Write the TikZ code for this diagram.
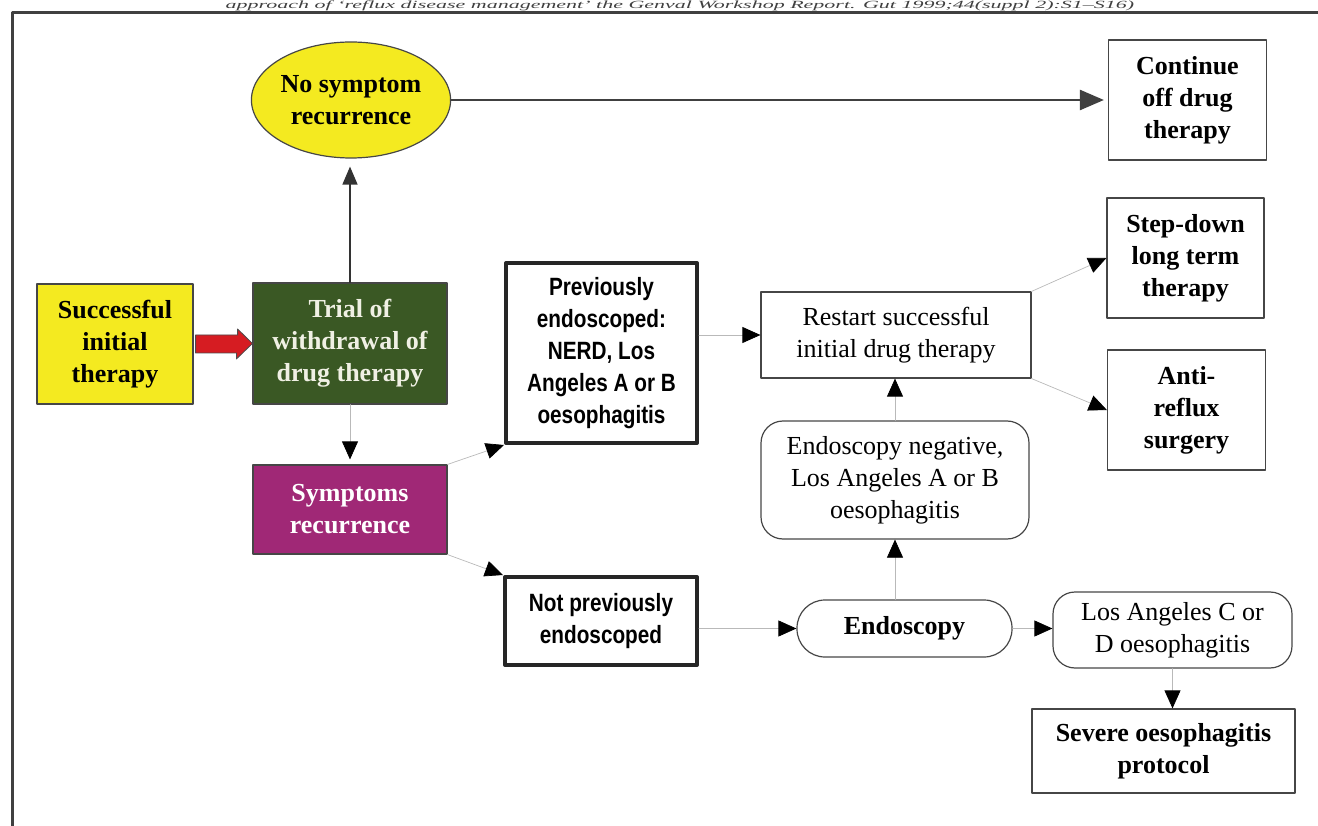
\documentclass[tikz,border=0pt]{standalone}
\usepackage{fontspec}
\setmainfont{Liberation Serif}
\newfontfamily\narrowsans[FakeStretch=0.83]{Liberation Sans}
\usetikzlibrary{arrows.meta,shapes.geometric}
\definecolor{boxyellow}{RGB}{244,234,32}
\definecolor{trialgreen}{RGB}{58,88,36}
\definecolor{sympmagenta}{RGB}{160,40,118}
\definecolor{arrowred}{RGB}{214,28,34}
\definecolor{edgegray}{RGB}{70,70,70}
\definecolor{linkgray}{RGB}{185,185,185}
\definecolor{paleink}{RGB}{240,240,228}

\begin{document}
\begin{tikzpicture}[line cap=round,line join=round,x=1pt,y=-1pt,
  box/.style={draw=edgegray,line width=1.2pt,inner sep=0pt,align=center,font=\fontsize{26}{32}\selectfont},
  boldbox/.style={box,font=\fontsize{26}{32}\selectfont\bfseries},
  thickbox/.style={box,draw=black!85,line width=4pt,font=\fontsize{25}{32}\selectfont\narrowsans\bfseries},
  roundbox/.style={box,rounded corners=22pt},
  link/.style={draw=linkgray,line width=0.7pt,-{Triangle[length=18pt,width=16pt,color=black]}}]
	\useasboundingbox (0,0) rectangle (1318,826);
	\clip (0,0) rectangle (1318,826);
	% caption above the frame
	\node[font=\fontsize{11}{13}\selectfont\itshape,text=black!75,anchor=base,inner sep=0pt,transform shape,xscale=2] (cap) at (680,8.5) {approach of `reflux disease management' the Genval Workshop Report. Gut 1999;44(suppl 2):S1--S16)};
	\draw[line width=3pt,draw=black!75] (12,826) -- (12,12.5) -- (1318,12.5);
	% boxes
	\node[boldbox,fill=boxyellow,minimum width=156,minimum height=120] (succ) at (115,344) {Successful\\initial\\therapy};
	\node[boldbox,fill=trialgreen,text=paleink,minimum width=194,minimum height=121] (trial) at (350,343.5) {Trial of\\withdrawal of\\drug therapy};
	\node[boldbox,ellipse,fill=boxyellow,minimum width=196,minimum height=116] (nosym) at (351,100) {No symptom\\recurrence};
	\node[boldbox,minimum width=158,minimum height=120] (cont) at (1187.5,100) {Continue\\off drug\\therapy};
	\node[boldbox,fill=sympmagenta,text=white,minimum width=194,minimum height=89] (symp) at (350,509.5) {Symptoms\\recurrence};
	\node[thickbox,minimum width=191,minimum height=180] (prev) at (601.5,353) {Previously\\endoscoped:\\NERD, Los\\Angeles A or B\\oesophagitis};
	\node[thickbox,minimum width=192,minimum height=88] (notprev) at (601,621) {Not previously\\endoscoped};
	\node[box,minimum width=270,minimum height=86] (restart) at (896,335) {Restart successful\\initial drug therapy};
	\node[boldbox,minimum width=157,minimum height=120] (stepdown) at (1185.5,258) {Step-down\\long term\\therapy};
	\node[boldbox,minimum width=158,minimum height=120] (anti) at (1186.5,410) {Anti-\\reflux\\surgery};
	\node[roundbox,minimum width=268,minimum height=118] (endneg) at (895,480) {Endoscopy negative,\\Los Angeles A or B\\oesophagitis};
	\node[roundbox,rounded corners=28pt,font=\fontsize{26}{32}\selectfont\bfseries,minimum width=215,minimum height=57] (endo) at (904.5,628.5) {Endoscopy};
	\node[roundbox,minimum width=239,minimum height=76] (lacd) at (1172.5,630) {Los Angeles C or\\D oesophagitis};
	\node[boldbox,minimum width=263,minimum height=84] (severe) at (1163.5,751) {Severe oesophagitis\\protocol};
	% red arrow
	\draw[fill=arrowred,draw=black!70,line width=0.8pt] ([shift={(2,-9)}]succ.east) -- ++(42,0) -- ++(0,-6) -- (trial.west) -- ++(-16,15.5) -- ++(0,-6) -- ([shift={(2,9)}]succ.east) -- cycle;
	% connectors
	\draw[line width=1.5pt,draw=black!80,-{Triangle[length=18pt,width=15pt]}] (trial.north) -- ([yshift=-8pt]trial.north |- nosym.south);
	\draw[line width=2.5pt,draw=black!75,-{Triangle[length=24pt,width=20pt]}] (nosym.east) -- ([xshift=-4pt]cont.west);
	\draw[link] (trial.south) -- ([yshift=5pt]symp.north);
	\draw[link] (symp.north east) -- (prev.south west);
	\draw[link] (symp.south east) -- (notprev.north west);
	\draw[link] (prev.east |- restart.west) -- (restart.west);
	\draw[link] (restart.north east) -- (stepdown.west);
	\draw[link] (restart.south east) -- (anti.west);
	\draw[link] (endneg.north) -- (endneg.north |- restart.south);
	\draw[link] (endo.north -| endneg.south) -- (endneg.south);
	\draw[link] (notprev.east |- endo.west) -- (endo.west);
	\draw[link] (endo.east) -- (endo.east -| lacd.west);
	\draw[link] (lacd.south) -- (lacd.south |- severe.north);
\end{tikzpicture}
\end{document}
